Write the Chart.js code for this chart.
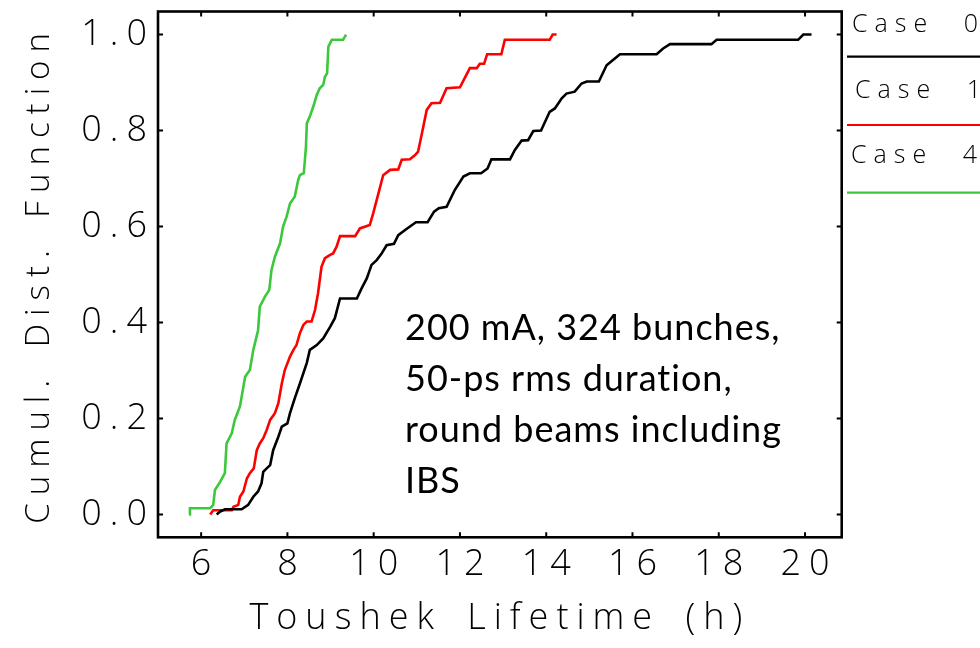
<!DOCTYPE html>
<html>
<head>
<meta charset="utf-8">
<script src="https://cdn.jsdelivr.net/npm/chart.js@4.4.1/dist/chart.umd.min.js"></script>
<style>
  html, body { margin: 0; padding: 0; background: #fff; }
  #wrap { width: 980px; height: 648px; }
  canvas { display: block; }
</style>
</head>
<body>
<div id="wrap"><canvas id="cdf" width="980" height="648"></canvas></div>
<script>
// Empirical cumulative distributions of the Touschek lifetime (hours)
const seriesNames = ['Case 0', 'Case 1', 'Case 4'];
const seriesColors = ['#000000', '#ff0000', '#3cc83c'];

const lifetime0 = [6.36,6.44,6.55,6.94,7.09,7.21,7.32,7.40,7.44,7.52,7.60,7.67,7.79,7.87,8.00,8.06,8.17,8.29,8.45,8.52,
  8.68,8.83,8.99,9.10,9.22,9.61,9.72,9.84,9.95,10.07,10.18,10.30,10.47,10.57,10.76,10.98,11.25,11.40,11.51,11.69,
  11.88,12.08,12.23,12.49,12.64,12.73,13.16,13.27,13.43,13.58,13.70,13.88,14.08,14.20,14.36,14.47,14.66,14.82,14.94,15.22,
  15.40,15.52,15.71,16.56,16.71,16.87,17.83,17.95,19.84,19.96,20.15];
const cdf0 = [0.000,0.006,0.011,0.011,0.020,0.037,0.048,0.065,0.089,0.096,0.103,0.134,0.162,0.183,0.190,0.211,0.242,0.273,0.316,0.343,
  0.353,0.367,0.391,0.409,0.450,0.450,0.471,0.492,0.520,0.530,0.543,0.561,0.564,0.582,0.595,0.609,0.609,0.631,0.638,0.641,
  0.676,0.704,0.711,0.711,0.721,0.740,0.740,0.759,0.779,0.780,0.799,0.800,0.839,0.846,0.867,0.877,0.881,0.898,0.902,0.902,
  0.936,0.945,0.959,0.959,0.971,0.980,0.980,0.989,0.989,1.000,1.000];

const lifetime1 = [6.21,6.28,6.71,6.75,6.86,6.90,6.98,7.06,7.13,7.22,7.29,7.36,7.44,7.52,7.60,7.71,7.79,7.87,7.94,8.06,
  8.14,8.21,8.29,8.37,8.45,8.56,8.64,8.71,8.79,8.87,8.99,9.06,9.14,9.22,9.57,9.68,9.91,9.99,10.11,10.22,
  10.38,10.57,10.65,10.84,10.96,11.03,11.15,11.23,11.34,11.54,11.69,12.00,12.11,12.23,12.39,12.46,12.56,12.63,12.96,13.04,
  14.08,14.15,14.24];
const cdf1 = [0.000,0.009,0.009,0.016,0.020,0.037,0.048,0.075,0.086,0.096,0.134,0.148,0.159,0.176,0.197,0.211,0.232,0.273,0.301,0.329,
  0.343,0.353,0.378,0.395,0.402,0.402,0.426,0.461,0.516,0.534,0.541,0.544,0.558,0.580,0.580,0.596,0.603,0.628,0.669,0.707,
  0.718,0.719,0.739,0.740,0.749,0.756,0.808,0.843,0.857,0.858,0.888,0.890,0.909,0.930,0.930,0.939,0.939,0.959,0.959,0.989,
  0.989,1.000,1.000];

const lifetime4 = [5.72,5.74,6.21,6.28,6.32,6.44,6.55,6.59,6.71,6.78,6.90,7.02,7.13,7.21,7.32,7.36,7.48,7.58,7.63,7.71,
  7.83,7.90,7.98,8.06,8.17,8.25,8.29,8.38,8.43,8.45,8.52,8.60,8.68,8.75,8.83,8.87,8.92,8.95,9.03,9.29,9.36];
const cdf4 = [0.000,0.013,0.013,0.020,0.051,0.068,0.086,0.148,0.169,0.197,0.225,0.287,0.301,0.343,0.384,0.433,0.454,0.468,0.509,0.537,
  0.565,0.600,0.620,0.648,0.662,0.697,0.707,0.711,0.766,0.815,0.829,0.850,0.874,0.888,0.895,0.912,0.919,0.975,0.989,0.989,1.000];

const xTicks = [6, 8, 10, 12, 14, 16, 18, 20];
const xTickLabels = ['6', '8', '10', '12', '14', '16', '18', '20'];
const yTicks = [0.0, 0.2, 0.4, 0.6, 0.8, 1.0];
const yTickLabels = ['0.0', '0.2', '0.4', '0.6', '0.8', '1.0'];

const xTitle = 'Toushek Lifetime (h)';
const yTitle = 'Cumul. Dist. Function';
const noteLines = ['200 mA, 324 bunches,', '50-ps rms duration,', 'round beams including', 'IBS'];

// ---- drawing helpers ----
const plotFamily = "'Open Sans'";
const LETTER_SP = 8, WORD_SP = 8, TICK_LEN = 5;

function toPoints(xs, ys) { return xs.map((v, i) => ({ x: v, y: ys[i] })); }
function setSpacing(ctx, l, w) { ctx.letterSpacing = l + 'px'; ctx.wordSpacing = w + 'px'; }

const spacingPlugin = {
  id: 'glyphSpacing',
  beforeUpdate(chart) { setSpacing(chart.ctx, LETTER_SP, WORD_SP); },
  beforeDraw(chart) { setSpacing(chart.ctx, LETTER_SP, WORD_SP); }
};

const framePlugin = {
  id: 'frameTicks',
  afterDraw(chart) {
    const { ctx, chartArea: a, scales: { x, y } } = chart;
    ctx.save();
    ctx.strokeStyle = '#000';
    ctx.lineWidth = 2.6;
    ctx.strokeRect(a.left, a.top, a.right - a.left, a.bottom - a.top);
    ctx.lineWidth = 2;
    ctx.beginPath();
    xTicks.forEach(v => {
      const p = x.getPixelForValue(v);
      ctx.moveTo(p, a.bottom); ctx.lineTo(p, a.bottom - TICK_LEN);
      ctx.moveTo(p, a.top); ctx.lineTo(p, a.top + TICK_LEN);
    });
    yTicks.forEach(v => {
      const p = y.getPixelForValue(v);
      ctx.moveTo(a.left, p); ctx.lineTo(a.left + TICK_LEN, p);
      ctx.moveTo(a.right, p); ctx.lineTo(a.right - TICK_LEN, p);
    });
    ctx.stroke();
    ctx.restore();
  }
};

const legendNotePlugin = {
  id: 'legendNote',
  afterDraw(chart) {
    const ctx = chart.ctx;
    ctx.save();
    // legend column to the right of the frame
    const rows = [
      { tx: 852, ty: 32, ly: 56.7 },
      { tx: 855, ty: 98, ly: 125 },
      { tx: 851, ty: 163, ly: 192.7 }
    ];
    ctx.font = "300 25px " + plotFamily;
    ctx.textAlign = 'left';
    ctx.textBaseline = 'alphabetic';
    setSpacing(ctx, 7, 16);
    chart.data.datasets.forEach((ds, i) => {
      const r = rows[i];
      ctx.fillStyle = '#000';
      ctx.fillText(ds.label, r.tx, r.ty);
      ctx.strokeStyle = ds.borderColor;
      ctx.lineWidth = 2.2;
      ctx.beginPath();
      ctx.moveTo(847, r.ly); ctx.lineTo(980, r.ly);
      ctx.stroke();
    });
    // annotation block
    setSpacing(ctx, 1, 0);
    ctx.font = "36px Lato";
    ctx.fillStyle = '#000';
    noteLines.forEach((t, i) => ctx.fillText(t, 405, 340 + i * 51));
    ctx.restore();
  }
};

const tickFont = { family: plotFamily, size: 36, weight: '300' };
const yTitleFont = { family: plotFamily, size: 33, weight: '300' };

new Chart(document.getElementById('cdf'), {
  type: 'scatter',
  data: {
    datasets: [
      { label: seriesNames[0], data: toPoints(lifetime0, cdf0), borderColor: seriesColors[0] },
      { label: seriesNames[1], data: toPoints(lifetime1, cdf1), borderColor: seriesColors[1] },
      { label: seriesNames[2], data: toPoints(lifetime4, cdf4), borderColor: seriesColors[2] }
    ].map(d => Object.assign(d, { showLine: true, pointRadius: 0, borderWidth: 2.6, tension: 0, fill: false }))
  },
  options: {
    responsive: false,
    devicePixelRatio: 1,
    animation: false,
    layout: { padding: { left: 0, top: 11.5, right: 138.3, bottom: 0 } },
    plugins: { legend: { display: false }, tooltip: { enabled: false } },
    scales: {
      x: {
        type: 'linear', min: 5, max: 20.85,
        afterFit(s) { s.height = 110.7; s.paddingLeft = 0; s.paddingRight = 0; },
        afterBuildTicks(s) { s.ticks = xTicks.map(v => ({ value: v })); },
        grid: { display: false, drawTicks: false },
        border: { display: false },
        ticks: {
          autoSkip: false, maxRotation: 0, padding: 6, labelOffset: 4,
          color: '#000', font: tickFont,
          callback: (v, i) => xTickLabels[i]
        },
        title: { display: true, text: xTitle, color: '#000', font: tickFont, padding: { top: 0, bottom: 8 } }
      },
      y: {
        type: 'linear', min: -0.0475, max: 1.048,
        afterFit(s) { s.width = 158; s.paddingTop = 0; s.paddingBottom = 0; },
        afterBuildTicks(s) { s.ticks = yTicks.map(v => ({ value: v })); },
        grid: { display: false, drawTicks: false },
        border: { display: false },
        ticks: {
          autoSkip: false, padding: 3,
          color: '#000', font: tickFont,
          callback: (v, i) => yTickLabels[i]
        },
        title: { display: true, text: yTitle, color: '#000', font: yTitleFont, padding: { top: 20, bottom: 0 } }
      }
    }
  },
  plugins: [spacingPlugin, framePlugin, legendNotePlugin]
});
</script>
</body>
</html>
